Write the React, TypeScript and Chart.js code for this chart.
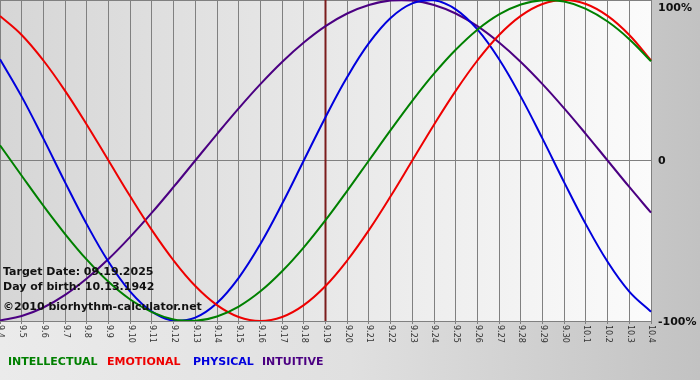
import React, { useEffect, useRef } from "react";
import { Chart, registerables } from "chart.js";

Chart.register(...registerables);

const dayLabels = [
  "9.4", "9.5", "9.6", "9.7", "9.8", "9.9", "9.10", "9.11", "9.12", "9.13",
  "9.14", "9.15", "9.16", "9.17", "9.18", "9.19", "9.20", "9.21", "9.22", "9.23",
  "9.24", "9.25", "9.26", "9.27", "9.28", "9.29", "9.30", "10.1", "10.2", "10.3", "10.4",
];

const intellectual = [9.5, -9.5, -28.2, -45.8, -61.8, -75.6, -86.6, -94.5, -99.0, -99.9, -97.2, -91.0, -81.5, -69.0, -54.1, -37.2, -18.9, 0, 18.9, 37.2, 54.1, 69.0, 81.5, 91.0, 97.2, 99.9, 99.0, 94.5, 86.6, 75.6, 61.8];
const emotional = [90.1, 78.2, 62.3, 43.4, 22.3, 0, -22.3, -43.4, -62.3, -78.2, -90.1, -97.5, -100, -97.5, -90.1, -78.2, -62.3, -43.4, -22.3, 0, 22.3, 43.4, 62.3, 78.2, 90.1, 97.5, 100, 97.5, 90.1, 78.2, 62.3];
const physical = [63.1, 39.8, 13.6, -13.6, -39.8, -63.1, -81.7, -94.2, -99.8, -97.9, -88.8, -73.1, -52.0, -27.0, 0, 27.0, 52.0, 73.1, 88.8, 97.9, 99.8, 94.2, 81.7, 63.1, 39.8, 13.6, -13.6, -39.8, -63.1, -81.7, -94.2];
const intuitive = [-99.7, -96.9, -91.6, -83.7, -73.5, -61.4, -47.6, -32.5, -16.5, 0, 16.5, 32.5, 47.6, 61.4, 73.5, 83.7, 91.6, 96.9, 99.7, 99.7, 96.9, 91.6, 83.7, 73.5, 61.4, 47.6, 32.5, 16.5, 0, -16.5, -32.5];

const seriesNames = ["INTELLECTUAL", "EMOTIONAL", "PHYSICAL", "INTUITIVE"];
const seriesColors = ["#008000", "#ee0000", "#0000dd", "#4b0082"];
const yTickValues = [100, 0, -100];
const yTickLabels = ["100%", "0", "-100%"];
const targetDay = "9.19";
const infoLines = ["Target Date: 09.19.2025", "Day of birth: 10.13.1942", "\u00a92010 biorhythm-calculator.net"];

const FONT = '"DejaVu Sans", Verdana, sans-serif';

const decorPlugin = {
  id: "decor",
  beforeDraw(chart: any) {
    const { ctx, width, height, chartArea } = chart;
    ctx.save();
    const bg = ctx.createLinearGradient(0, 0, width, 0);
    bg.addColorStop(0, "#ebebeb");
    bg.addColorStop(0.5, "#e0e0e0");
    bg.addColorStop(1, "#c2c2c2");
    ctx.fillStyle = bg;
    ctx.fillRect(0, 0, width, height);
    const pa = ctx.createLinearGradient(chartArea.left, 0, chartArea.right, 0);
    pa.addColorStop(0, "#d6d6d6");
    pa.addColorStop(0.5, "#e8e8e8");
    pa.addColorStop(1, "#fbfbfb");
    ctx.fillStyle = pa;
    ctx.fillRect(chartArea.left, chartArea.top, chartArea.right - chartArea.left, chartArea.bottom - chartArea.top);
    ctx.restore();
  },
  beforeDatasetsDraw(chart: any) {
    const { ctx, chartArea } = chart;
    const xs = chart.scales.x;
    const idx = dayLabels.indexOf(targetDay);
    const x = xs.getPixelForValue(idx);
    ctx.save();
    ctx.strokeStyle = "#7b1c1c";
    ctx.lineWidth = 2;
    ctx.beginPath();
    ctx.moveTo(x, chartArea.top);
    ctx.lineTo(x, chartArea.bottom);
    ctx.stroke();
    ctx.restore();
  },
  afterDraw(chart: any) {
    const { ctx, chartArea } = chart;
    const xs = chart.scales.x;
    const ys = chart.scales.y;
    ctx.save();
    // x labels, rotated clockwise
    ctx.fillStyle = "#333";
    ctx.font = "8px " + FONT;
    ctx.textAlign = "left";
    ctx.textBaseline = "middle";
    dayLabels.forEach((lab, i) => {
      const x = xs.getPixelForValue(i);
      ctx.save();
      ctx.translate(x + 0.5, chartArea.bottom + 4);
      ctx.rotate(Math.PI / 2);
      ctx.fillText(lab, 0, 0);
      ctx.restore();
    });
    // y labels
    ctx.fillStyle = "#111";
    ctx.font = "bold 11px " + FONT;
    yTickValues.forEach((v, i) => {
      let y = ys.getPixelForValue(v);
      y = Math.min(Math.max(y, chartArea.top + 7), chartArea.bottom + 1);
      ctx.fillText(yTickLabels[i], chartArea.right + 7, y + 1);
    });
    // info text
    ctx.fillStyle = "#111";
    ctx.font = "bold 11px " + FONT;
    const infoY = [272, 287, 307];
    infoLines.forEach((t, i) => ctx.fillText(t, 3, infoY[i]));
    // legend
    const legendX = [8, 107, 193, 262];
    seriesNames.forEach((n, i) => {
      ctx.fillStyle = seriesColors[i];
      ctx.fillText(n, legendX[i], 362);
    });
    ctx.restore();
  },
};

export default function App() {
  const ref = useRef<HTMLCanvasElement | null>(null);
  useEffect(() => {
    if (!ref.current) return;
    const data = [intellectual, emotional, physical, intuitive];
    const chart = new Chart(ref.current, {
      type: "line",
      data: {
        labels: dayLabels,
        datasets: data.map((d, i) => ({
          label: seriesNames[i],
          data: d,
          borderColor: seriesColors[i],
          backgroundColor: seriesColors[i],
          borderWidth: 2,
          pointRadius: 0,
          tension: 0.4,
          fill: false,
        })),
      },
      options: {
        responsive: false,
        animation: false,
        devicePixelRatio: 1,
        layout: { padding: 0 },
        plugins: { legend: { display: false }, tooltip: { enabled: false }, title: { display: false } },
        scales: {
          x: {
            type: "category",
            offset: false,
            ticks: { display: false, autoSkip: false },
            grid: { color: "#808080", lineWidth: 1, tickLength: 3, offset: false },
            border: { display: false },
            afterFit: (s: any) => {
              s.height = 59;
              s.paddingLeft = 0;
              s.paddingRight = 0;
            },
          },
          y: {
            position: "right",
            min: -100,
            max: 100,
            ticks: { display: false, stepSize: 100 },
            grid: { color: "#808080", lineWidth: 1, drawTicks: false },
            border: { display: false },
            afterFit: (s: any) => {
              s.width = 49;
              s.paddingTop = 0;
              s.paddingBottom = 0;
            },
          },
        },
      },
      plugins: [decorPlugin],
    });
    return () => chart.destroy();
  }, []);
  return (
    <div style={{ position: "absolute", left: 0, top: 0, width: 700, height: 380 }}>
      <canvas ref={ref} width={700} height={380} style={{ display: "block", width: 700, height: 380 }} />
    </div>
  );
}
